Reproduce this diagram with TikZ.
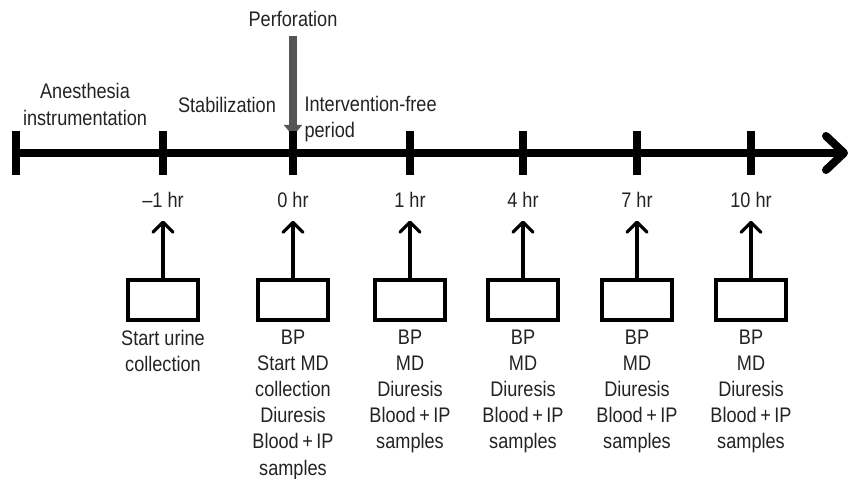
\documentclass[tikz,border=0pt]{standalone}
\usepackage{fontspec}
\setmainfont{Liberation Sans}[FakeStretch=0.86]
\usetikzlibrary{arrows.meta,positioning}
\definecolor{perfgray}{RGB}{85,85,85}
\definecolor{txtgray}{RGB}{35,35,35}

\begin{document}
\begin{tikzpicture}[
  every node/.style={font=\fontsize{15pt}{18.6pt}\selectfont, text=txtgray},
  hrtick/.style={line width=0.2cm},
  samplebox/.style={draw, line width=0.08cm, minimum width=1.75cm, minimum height=1cm, inner sep=0pt},
  up/.style={line width=0.08cm, line cap=round, line join=round, -{Straight Barb[length=0.25cm,width=0.5cm,round]}, shorten >=0.2cm}
]
\useasboundingbox (0,0) rectangle (21.425,11.95);
% Time axis
\coordinate (origin) at (0.4,8.125);
\coordinate (tend) at (21.2,8.125);
\draw[line width=0.2cm, line cap=round, -{Straight Barb[length=0.45cm,width=0.85cm,round]}] (origin) -- (tend);
\draw[hrtick] (0.4,7.575) -- (0.4,8.675);
% Phases
\node[align=center] (anest) at (2.125,9.34) {Anesthesia\\instrumentation};
\node (stab) at (5.675,9.325) {Stabilization};
\node[align=left, anchor=west] (free) at (7.49,8.97) {Intervention-free\\period};
% Perforation
\node (perf) at (7.325,11.475) {Perforation};
\coordinate (perfend) at (7.325,8.55);
\draw[perfgray, line width=0.2cm, shorten <=0.1cm, -{Triangle[length=0.28cm,width=0.45cm]}] (perf) -- (perfend);
% Sampling points
\foreach \x/\hr/\txt [count=\i] in {
  4.075/{--1 hr}/{Start urine\\collection},
  7.325/{0 hr}/{BP\\Start MD\\collection\\Diuresis\\Blood\,+\,IP\\samples},
  10.25/{1 hr}/{BP\\MD\\Diuresis\\Blood\,+\,IP\\samples},
  13.075/{4 hr}/{BP\\MD\\Diuresis\\Blood\,+\,IP\\samples},
  15.925/{7 hr}/{BP\\MD\\Diuresis\\Blood\,+\,IP\\samples},
  18.775/{10 hr}/{BP\\MD\\Diuresis\\Blood\,+\,IP\\samples}}
{
  \draw[hrtick] (\x,7.575) -- (\x,8.675);
  \node (hr\i) at (\x,6.95) {\hr};
  \node[samplebox] (box\i) at (\x,4.45) {};
  \node[align=center, below=0.08cm of box\i] (txt\i) {\txt};
  \draw[up] (box\i.north) -- (hr\i.south);
}
\end{tikzpicture}
\end{document}
